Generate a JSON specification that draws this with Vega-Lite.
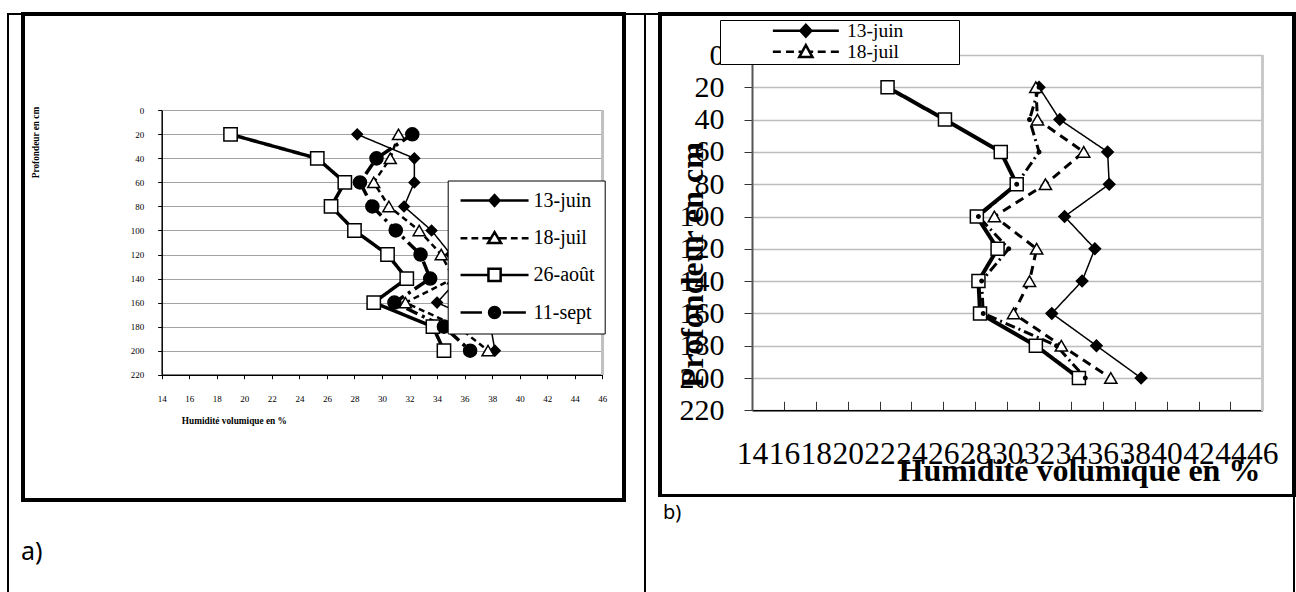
{
  "$schema": "https://vega.github.io/schema/vega-lite/v6.json",
  "padding": {"left": 7, "top": 11, "right": 0, "bottom": 0},
  "background": "white",
  "spacing": 0,
  "bounds": "flush",
  "config": {
    "view": {"stroke": "black", "strokeWidth": 2},
    "concat": {"spacing": 0},
    "axis": {"labelFont": "Liberation Serif", "titleFont": "Liberation Serif", "labelColor": "black", "titleColor": "black", "tickColor": "black", "domainColor": "black", "titleFontWeight": "bold", "labelOverlap": false, "labelFlush": false, "labelBound": false},
    "axisX": {"labelOverlap": false},
    "axisY": {"labelOverlap": false},
    "axisQuantitative": {"labelOverlap": false},
    "legend": {"labelFont": "Liberation Serif", "labelColor": "black"}
  },
  "resolve": {
    "scale": {"x": "independent", "y": "independent", "shape": "independent", "fill": "independent", "size": "independent", "strokeDash": "independent", "strokeWidth": "independent"},
    "legend": {"shape": "independent"}
  },
  "datasets": {
    "a": [
      {"date": "13-juin", "depth": 20, "hum": 28.2}, {"date": "13-juin", "depth": 40, "hum": 32.35}, {"date": "13-juin", "depth": 60, "hum": 32.35}, {"date": "13-juin", "depth": 80, "hum": 31.6}, {"date": "13-juin", "depth": 100, "hum": 33.6}, {"date": "13-juin", "depth": 120, "hum": 35.0}, {"date": "13-juin", "depth": 140, "hum": 35.6}, {"date": "13-juin", "depth": 160, "hum": 34.0}, {"date": "13-juin", "depth": 180, "hum": 37.9}, {"date": "13-juin", "depth": 200, "hum": 38.2},
      {"date": "18-juil", "depth": 20, "hum": 31.2}, {"date": "18-juil", "depth": 40, "hum": 30.6}, {"date": "18-juil", "depth": 60, "hum": 29.4}, {"date": "18-juil", "depth": 80, "hum": 30.5}, {"date": "18-juil", "depth": 100, "hum": 32.7}, {"date": "18-juil", "depth": 120, "hum": 34.3}, {"date": "18-juil", "depth": 140, "hum": 35.2}, {"date": "18-juil", "depth": 160, "hum": 31.7}, {"date": "18-juil", "depth": 180, "hum": 35.5}, {"date": "18-juil", "depth": 200, "hum": 37.7},
      {"date": "26-août", "depth": 20, "hum": 19.0}, {"date": "26-août", "depth": 40, "hum": 25.3}, {"date": "26-août", "depth": 60, "hum": 27.3}, {"date": "26-août", "depth": 80, "hum": 26.3}, {"date": "26-août", "depth": 100, "hum": 28.0}, {"date": "26-août", "depth": 120, "hum": 30.4}, {"date": "26-août", "depth": 140, "hum": 31.8}, {"date": "26-août", "depth": 160, "hum": 29.4}, {"date": "26-août", "depth": 180, "hum": 33.7}, {"date": "26-août", "depth": 200, "hum": 34.5},
      {"date": "11-sept", "depth": 20, "hum": 32.2}, {"date": "11-sept", "depth": 40, "hum": 29.6}, {"date": "11-sept", "depth": 60, "hum": 28.4}, {"date": "11-sept", "depth": 80, "hum": 29.3}, {"date": "11-sept", "depth": 100, "hum": 31.0}, {"date": "11-sept", "depth": 120, "hum": 32.8}, {"date": "11-sept", "depth": 140, "hum": 33.5}, {"date": "11-sept", "depth": 160, "hum": 30.9}, {"date": "11-sept", "depth": 180, "hum": 34.5}, {"date": "11-sept", "depth": 200, "hum": 36.4}
    ],
    "b": [
      {"date": "13-juin", "depth": 20, "hum": 32.0}, {"date": "13-juin", "depth": 40, "hum": 33.3}, {"date": "13-juin", "depth": 60, "hum": 36.3}, {"date": "13-juin", "depth": 80, "hum": 36.4}, {"date": "13-juin", "depth": 100, "hum": 33.6}, {"date": "13-juin", "depth": 120, "hum": 35.5}, {"date": "13-juin", "depth": 140, "hum": 34.7}, {"date": "13-juin", "depth": 160, "hum": 32.8}, {"date": "13-juin", "depth": 180, "hum": 35.6}, {"date": "13-juin", "depth": 200, "hum": 38.4},
      {"date": "18-juil", "depth": 20, "hum": 31.8}, {"date": "18-juil", "depth": 40, "hum": 31.9}, {"date": "18-juil", "depth": 60, "hum": 34.8}, {"date": "18-juil", "depth": 80, "hum": 32.4}, {"date": "18-juil", "depth": 100, "hum": 29.2}, {"date": "18-juil", "depth": 120, "hum": 31.85}, {"date": "18-juil", "depth": 140, "hum": 31.4}, {"date": "18-juil", "depth": 160, "hum": 30.4}, {"date": "18-juil", "depth": 180, "hum": 33.4}, {"date": "18-juil", "depth": 200, "hum": 36.5},
      {"date": "26-août", "depth": 20, "hum": 22.5}, {"date": "26-août", "depth": 40, "hum": 26.1}, {"date": "26-août", "depth": 60, "hum": 29.6}, {"date": "26-août", "depth": 80, "hum": 30.6}, {"date": "26-août", "depth": 100, "hum": 28.1}, {"date": "26-août", "depth": 120, "hum": 29.4}, {"date": "26-août", "depth": 140, "hum": 28.2}, {"date": "26-août", "depth": 160, "hum": 28.3}, {"date": "26-août", "depth": 180, "hum": 31.8}, {"date": "26-août", "depth": 200, "hum": 34.5},
      {"date": "11-sept", "depth": 20, "hum": 32.0}, {"date": "11-sept", "depth": 40, "hum": 31.4}, {"date": "11-sept", "depth": 60, "hum": 32.0}, {"date": "11-sept", "depth": 80, "hum": 30.6}, {"date": "11-sept", "depth": 100, "hum": 28.2}, {"date": "11-sept", "depth": 120, "hum": 30.1}, {"date": "11-sept", "depth": 140, "hum": 28.4}, {"date": "11-sept", "depth": 160, "hum": 28.5}, {"date": "11-sept", "depth": 180, "hum": 33.1}, {"date": "11-sept", "depth": 200, "hum": 34.9}
    ]
  },
  "hconcat": [
    {
      "width": 637,
      "height": 600,
      "data": {"name": "a"},
      "title": {"text": "a)", "orient": "bottom", "anchor": "start", "frame": "group", "offset": -54, "dx": 13, "baseline": "alphabetic", "font": "Noto Sans", "fontSize": 25, "fontWeight": "normal", "color": "black"},
      "resolve": {"scale": {"shape": "independent"}, "legend": {"shape": "independent"}},
      "layer": [
        {
          "mark": {"type": "rect", "filled": false, "stroke": "black", "strokeWidth": 3},
          "encoding": {"x": {"datum": 3.905, "type": "quantitative", "axis": {"labelOverlap": false}}, "x2": {"datum": 47.554}, "y": {"datum": -80.13, "type": "quantitative"}, "y2": {"datum": 324.26}}
        },
        {
          "mark": {"type": "rule", "stroke": "#c0c0c0", "strokeWidth": 2},
          "encoding": {"x": {"datum": 46, "type": "quantitative", "axis": {"labelOverlap": false}}, "y": {"datum": 0, "type": "quantitative"}, "y2": {"datum": 220}}
        },
        {
          "mark": {"type": "line", "color": "black"},
          "encoding": {
            "x": {"field": "hum", "type": "quantitative",
              "scale": {"domain": [14, 46], "range": [153.7, 594.3], "nice": false, "zero": false},
              "axis": {"orient": "bottom", "offset": -239.3, "values": [14, 16, 18, 20, 22, 24, 26, 28, 30, 32, 34, 36, 38, 40, 42, 44, 46], "tickCount": 17, "grid": false, "labelOverlap": false, "labelSeparation": 0, "domainWidth": 1.5, "tickSize": 4, "labelFontSize": 9, "labelPadding": 16, "title": "Humidité volumique en %", "titleFontSize": 9.3, "titleX": 225.8, "titleY": 46, "titleAlign": "center", "titleBaseline": "middle"}},
            "y": {"field": "depth", "type": "quantitative",
              "scale": {"domain": [0, 220], "range": [96.3, 360.7], "nice": false, "zero": false},
              "axis": {"orient": "left", "offset": -153.7, "values": [0, 20, 40, 60, 80, 100, 120, 140, 160, 180, 200, 220], "grid": true, "labelOverlap": false, "gridColor": "#a3a3a3", "gridWidth": 1, "domainWidth": 1.5, "tickSize": 4, "labelFontSize": 9, "labelPadding": 14, "title": "Profondeur en cm", "titleFontSize": 9.3, "titleX": -126.7, "titleY": 128, "titleAngle": 270, "titleAlign": "center", "titleBaseline": "middle"}},
            "order": {"field": "depth", "type": "quantitative"},
            "strokeDash": {"field": "date", "type": "nominal", "scale": {"domain": ["13-juin", "18-juil", "26-août", "11-sept"], "range": [[1, 0], [6, 4], [1, 0], [12, 5, 3, 5]]}, "legend": null},
            "strokeWidth": {"field": "date", "type": "nominal", "scale": {"type": "ordinal", "domain": ["13-juin", "18-juil", "26-août", "11-sept"], "range": [1.5, 2.5, 3.5, 3.5]}, "legend": null}
          }
        },
        {
          "mark": {"type": "point", "filled": true, "stroke": "black", "strokeWidth": 1.5, "opacity": 1},
          "encoding": {
            "x": {"field": "hum", "type": "quantitative", "axis": {"labelOverlap": false}},
            "y": {"field": "depth", "type": "quantitative"},
            "shape": {"field": "date", "type": "nominal", "scale": {"domain": ["13-juin", "18-juil", "26-août", "11-sept"], "range": ["diamond", "triangle-up", "square", "circle"]}, "legend": null},
            "fill": {"field": "date", "type": "nominal", "scale": {"domain": ["13-juin", "18-juil", "26-août", "11-sept"], "range": ["black", "white", "white", "black"]}, "legend": null},
            "size": {"field": "date", "type": "nominal", "scale": {"type": "ordinal", "domain": ["13-juin", "18-juil", "26-août", "11-sept"], "range": [110, 144, 177, 170]}, "legend": null}
          }
        },
        {
          "transform": [{"filter": "datum.depth < 0"}],
          "mark": {"type": "point", "filled": false, "color": "black", "strokeWidth": 2.5, "opacity": 1},
          "encoding": {
            "x": {"field": "hum", "type": "quantitative", "axis": {"labelOverlap": false}},
            "y": {"field": "depth", "type": "quantitative"},
            "shape": {"field": "date", "type": "nominal",
              "scale": {"domain": ["13-juin", "18-juil", "26-août", "11-sept"], "range": [
                "M-34,0L34,0M0,-5.5L5,0L0,5.5L-5,0ZM0,-3.3L3,0L0,3.3L-3,0ZM0,-1.2L1.1,0L0,1.2L-1.1,0Z",
                "M-34,0L-27.2,0M-23.1,0L-16.3,0M-12.2,0L-3.7,0M3.7,0L12.2,0M16.3,0L23.1,0M27.2,0L34,0M0,-6.1L6.5,4.8L-6.5,4.8Z",
                "M-34,0L-6.1,0M6.1,0L34,0M-6.1,-6.1L6.1,-6.1L6.1,6.1L-6.1,6.1Z",
                "M-34,0L-12.6,0M8.2,0L31.3,0M5.5,0A5.5,5.5,0,1,1,-5.5,0A5.5,5.5,0,1,1,5.5,0ZM3.2,0A3.2,3.2,0,1,1,-3.2,0A3.2,3.2,0,1,1,3.2,0ZM1,0A1,1,0,1,1,-1,0A1,1,0,1,1,1,0Z"]},
              "legend": {"orient": "none", "legendX": 439.7, "legendY": 166.5, "title": null, "strokeColor": "black", "fillColor": "white", "padding": 10, "symbolSize": 4, "symbolStrokeWidth": 2.5, "symbolOpacity": 1, "symbolStrokeColor": "black", "symbolOffset": 26.85, "labelOffset": 28.95, "labelFontSize": 20, "rowPadding": 14.7}}
          }
        }
      ]
    },
    {
      "width": 649,
      "height": 600,
      "data": {"name": "b"},
      "title": {"text": "b)", "orient": "bottom", "anchor": "start", "frame": "group", "offset": -95, "dx": 18, "baseline": "alphabetic", "font": "Noto Sans", "fontSize": 20, "fontWeight": "normal", "color": "black"},
      "resolve": {"scale": {"shape": "independent"}, "legend": {"shape": "independent"}},
      "layer": [
        {
          "mark": {"type": "rect", "filled": false, "stroke": "black", "strokeWidth": 3},
          "encoding": {"x": {"datum": 8.231, "type": "quantitative", "axis": {"labelOverlap": false}}, "x2": {"datum": 47.988}, "y": {"datum": -25.39, "type": "quantitative"}, "y2": {"datum": 272.76}}
        },
        {
          "mark": {"type": "rule", "stroke": "#c8c8c8", "strokeWidth": 2},
          "encoding": {"x": {"datum": 46, "type": "quantitative", "axis": {"labelOverlap": false}}, "y": {"datum": 0, "type": "quantitative"}, "y2": {"datum": 220}}
        },
        {
          "mark": {"type": "line", "color": "black"},
          "encoding": {
            "x": {"field": "hum", "type": "quantitative",
              "scale": {"domain": [14, 46], "range": [107, 617.3], "nice": false, "zero": false},
              "axis": {"orient": "bottom", "offset": -203.7, "values": [14, 16, 18, 20, 22, 24, 26, 28, 30, 32, 34, 36, 38, 40, 42, 44, 46], "grid": false, "labelOverlap": false, "domainWidth": 1.5, "tickSize": -9, "tickColor": "#333333", "labelFontSize": 31.5, "labelPadding": 37, "title": "Humidité volumique en %", "titleFontSize": 32, "titleX": 434, "titleY": 60, "titleAlign": "center", "titleBaseline": "middle"}},
            "y": {"field": "depth", "type": "quantitative",
              "scale": {"domain": [0, 220], "range": [41, 396.3], "nice": false, "zero": false},
              "axis": {"orient": "left", "offset": -107, "values": [0, 20, 40, 60, 80, 100, 120, 140, 160, 180, 200, 220], "grid": true, "labelOverlap": false, "gridColor": "#bdbdbd", "gridWidth": 1.5, "domainColor": "#555555", "domainWidth": 2, "tickSize": 8, "tickColor": "#333333", "labelFontSize": 30, "labelPadding": 20, "title": "Profondeur en cm", "titleFontSize": 32, "titleX": -59.5, "titleY": 250.5, "titleAngle": 270, "titleAlign": "center", "titleBaseline": "middle"}},
            "order": {"field": "depth", "type": "quantitative"},
            "strokeDash": {"field": "date", "type": "nominal", "scale": {"domain": ["13-juin", "18-juil", "26-août", "11-sept"], "range": [[1, 0], [9, 6], [1, 0], [10, 4, 2, 4]]}, "legend": null},
            "strokeWidth": {"field": "date", "type": "nominal", "scale": {"type": "ordinal", "domain": ["13-juin", "18-juil", "26-août", "11-sept"], "range": [1.5, 3, 4, 3]}, "legend": null}
          }
        },
        {
          "mark": {"type": "point", "filled": true, "stroke": "black", "strokeWidth": 1.5, "opacity": 1},
          "encoding": {
            "x": {"field": "hum", "type": "quantitative", "axis": {"labelOverlap": false}},
            "y": {"field": "depth", "type": "quantitative"},
            "shape": {"field": "date", "type": "nominal", "scale": {"domain": ["13-juin", "18-juil", "26-août", "11-sept"], "range": ["diamond", "triangle-up", "square", "circle"]}, "legend": null},
            "fill": {"field": "date", "type": "nominal", "scale": {"domain": ["13-juin", "18-juil", "26-août", "11-sept"], "range": ["black", "white", "white", "black"]}, "legend": null},
            "size": {"field": "date", "type": "nominal", "scale": {"type": "ordinal", "domain": ["13-juin", "18-juil", "26-août", "11-sept"], "range": [130, 150, 169, 12]}, "legend": null}
          }
        },
        {
          "transform": [{"filter": "datum.depth < 0"}],
          "mark": {"type": "point", "filled": false, "color": "black", "strokeWidth": 2.5, "opacity": 1},
          "encoding": {
            "x": {"field": "hum", "type": "quantitative", "axis": {"labelOverlap": false}},
            "y": {"field": "depth", "type": "quantitative"},
            "shape": {"field": "date", "type": "nominal",
              "scale": {"domain": ["13-juin", "18-juil", "26-août", "11-sept"], "range": [
                "M-33,0L33,0M0,-6L5.5,0L0,6L-5.5,0ZM0,-3.5L3.2,0L0,3.5L-3.2,0ZM0,-1L1,0L0,1L-1,0ZM147,0",
                "M-33,0L-25,0M-19.8,0L-11.9,0M-7.3,0L-3.6,0M3.6,0L7.3,0M11.9,0L19.8,0M25,0L33,0M0,-6.6L6.6,5.3L-6.6,5.3Z",
                "M-33,0L-6,0M6,0L33,0M-6,-6L6,-6L6,6L-6,6Z",
                "M-33,0L-8,0M8,0L33,0M6,0A6,6,0,1,1,-6,0A6,6,0,1,1,6,0Z"]},
              "legend": {"orient": "none", "legendX": 75, "legendY": 6, "values": ["13-juin", "18-juil"], "title": null, "strokeColor": "black", "fillColor": "white", "padding": 1, "symbolSize": 4, "symbolStrokeWidth": 2.5, "symbolOpacity": 1, "symbolStrokeColor": "black", "symbolOffset": 75.1, "labelOffset": 31.4, "labelFontSize": 19.5, "rowPadding": -7}}
          }
        }
      ]
    }
  ]
}
